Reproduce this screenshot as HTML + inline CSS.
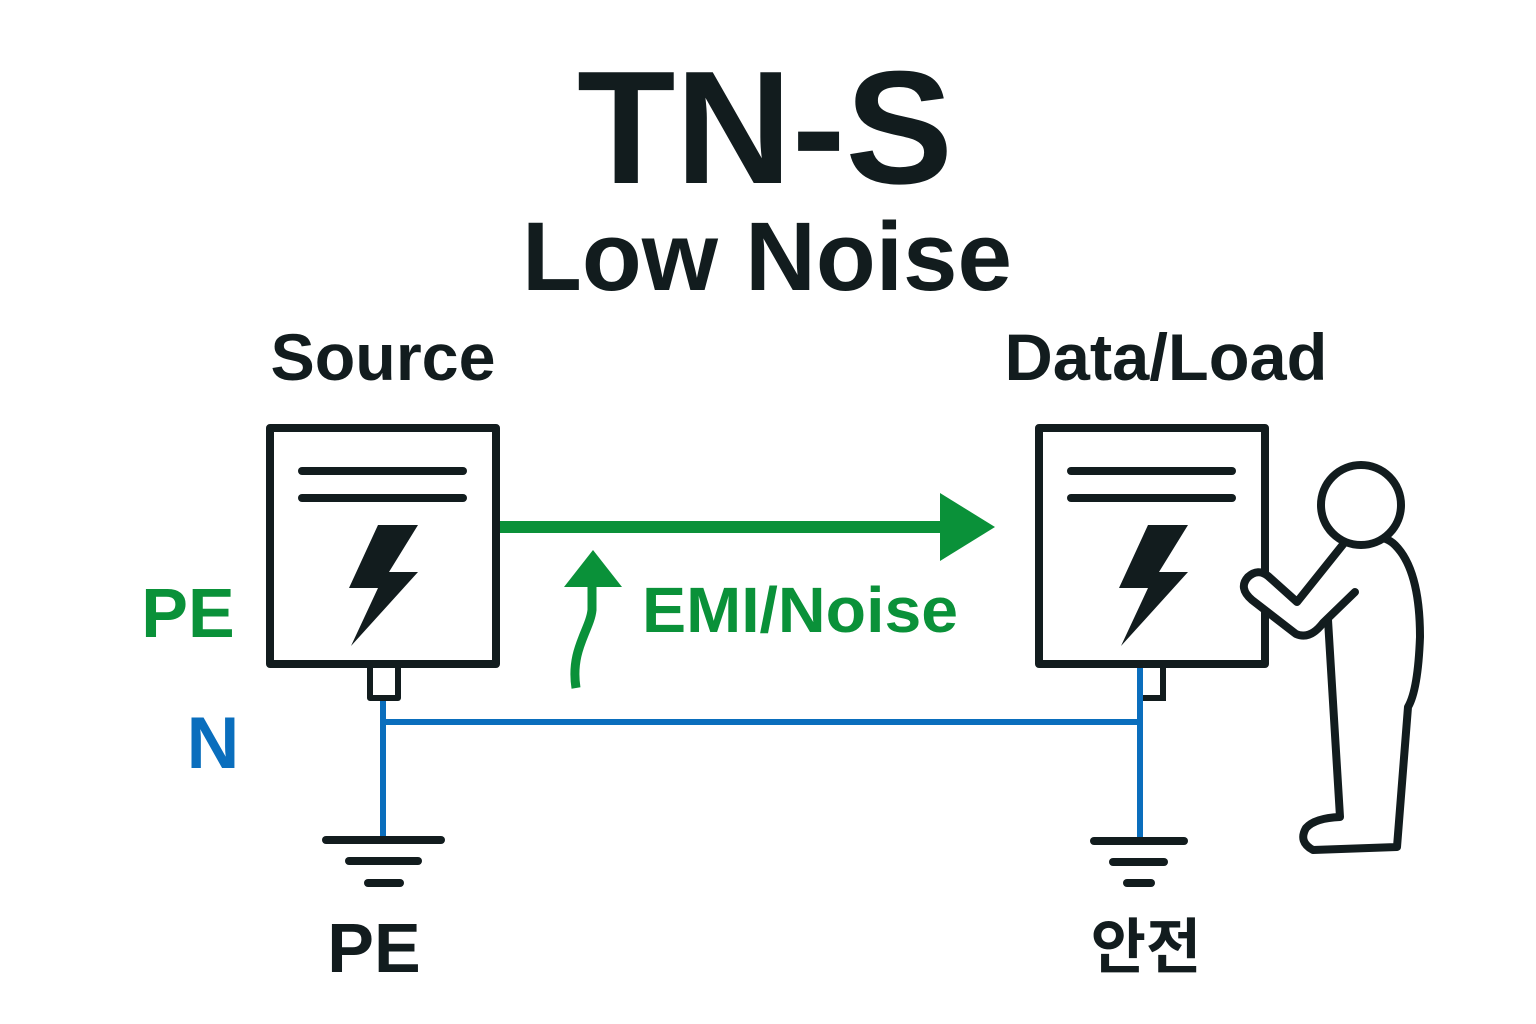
<!DOCTYPE html>
<html><head><meta charset="utf-8"><style>
html,body{margin:0;padding:0;background:#fff;}
svg{display:block;}
text{font-family:"Liberation Sans","Noto Sans CJK KR",sans-serif;font-weight:bold;}
</style></head><body>
<svg width="1536" height="1024" viewBox="0 0 1536 1024">
<rect width="1536" height="1024" fill="#fff"/>
<text x="765" y="183" font-size="161" fill="#121c1e" text-anchor="middle" textLength="376" lengthAdjust="spacingAndGlyphs">TN-S</text>
<text x="767" y="290" font-size="97" fill="#121c1e" text-anchor="middle" textLength="490" lengthAdjust="spacingAndGlyphs">Low Noise</text>
<text x="383" y="380" font-size="66" fill="#121c1e" text-anchor="middle" textLength="225" lengthAdjust="spacingAndGlyphs">Source</text>
<text x="1166" y="380" font-size="66" fill="#121c1e" text-anchor="middle" textLength="323" lengthAdjust="spacingAndGlyphs">Data/Load</text>
<text x="188" y="637" font-size="70" fill="#0a9139" text-anchor="middle">PE</text>
<text x="213" y="768" font-size="73" fill="#0a6ebd" text-anchor="middle">N</text>
<text x="642" y="632" font-size="64" fill="#0a9139" textLength="316" lengthAdjust="spacingAndGlyphs">EMI/Noise</text>
<text x="374" y="972" font-size="70" fill="#121c1e" text-anchor="middle">PE</text>
<text x="1146" y="968" font-size="60" fill="#121c1e" text-anchor="middle">안전</text>

<g stroke="#0a6ebd" stroke-width="6" fill="none">
<line x1="383" y1="698" x2="383" y2="840"/>
<line x1="383" y1="722" x2="1140" y2="722"/>
<line x1="1140" y1="665" x2="1140" y2="840"/>
</g>
<line x1="497" y1="527" x2="945" y2="527" stroke="#0a9139" stroke-width="12"/>
<polygon points="940,493 995,527 940,561" fill="#0a9139"/>
<path d="M576,688 C570,650 590,630 592,610 L592,585" stroke="#0a9139" stroke-width="9" fill="none"/>
<polygon points="564,587 622,587 593,550" fill="#0a9139"/>

<g stroke="#121c1e" stroke-width="8" fill="#fff" stroke-linejoin="round">
<rect x="270" y="428" width="226" height="236"/>
<rect x="1039" y="428" width="226" height="236"/>
<rect x="370" y="665" width="28" height="33" stroke-width="6"/>
</g>
<path d="M1143,665 L1163,665 L1163,698 L1143,698" stroke="#121c1e" stroke-width="6" fill="none"/>
<g stroke="#121c1e" stroke-width="8" stroke-linecap="round">
<line x1="302" y1="471" x2="463" y2="471"/><line x1="302" y1="498" x2="463" y2="498"/>
<line x1="1071" y1="471" x2="1232" y2="471"/><line x1="1071" y1="498" x2="1232" y2="498"/>
<line x1="326" y1="840" x2="441" y2="840"/><line x1="349" y1="861" x2="418" y2="861"/><line x1="368" y1="883" x2="400" y2="883"/>
<line x1="1094" y1="841" x2="1184" y2="841"/><line x1="1113" y1="862" x2="1164" y2="862"/><line x1="1127" y1="883" x2="1151" y2="883"/>
</g>
<polygon points="378,525 418,525 389,572 418,572 351,646 378,588 349,588" fill="#121c1e"/>
<polygon points="1148,525 1188,525 1159,572 1188,572 1121,646 1148,588 1119,588" fill="#121c1e"/>

<g stroke="#121c1e" stroke-width="8" fill="#fff" stroke-linejoin="round" stroke-linecap="round">
<path d="M1345,542 Q1380,530 1395,545 Q1420,570 1420,637 Q1418,690 1408,707 L1397,847 L1313,850 Q1298,842 1306,828 Q1315,818 1340,817 L1328,620"/>
<path d="M1355,592 L1323,623 Q1310,640 1296,634 L1252,600 Q1238,588 1248,577 Q1258,568 1268,576 L1297,602 L1345,542"/>
<circle cx="1361" cy="505" r="40"/>
</g>
</svg>
</body></html>
